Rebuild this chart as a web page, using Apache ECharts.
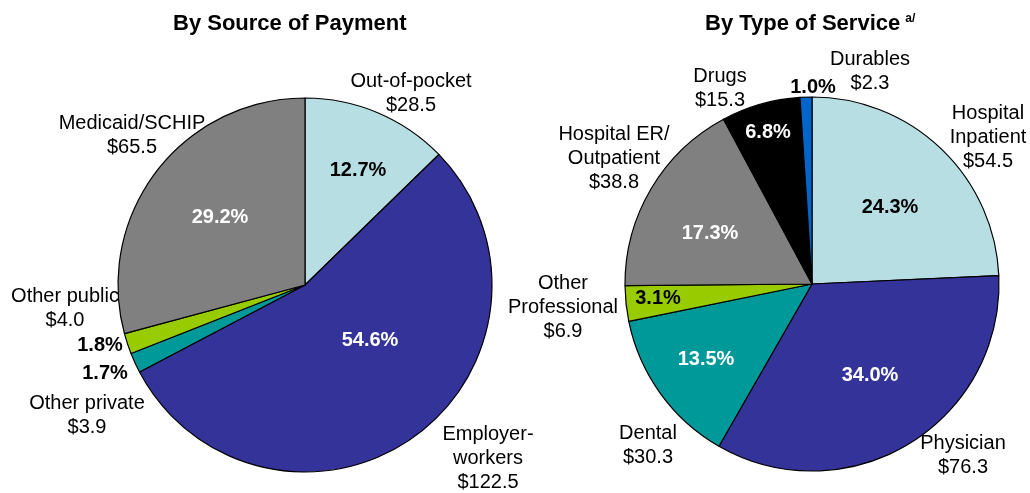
<!DOCTYPE html>
<html>
<head>
<meta charset="utf-8">
<script src="https://cdn.jsdelivr.net/npm/echarts@6/dist/echarts.min.js"></script>
<style>
  html, body { margin: 0; padding: 0; background: #fff; }
  #chart { width: 1030px; height: 493px; }
</style>
</head>
<body>
<div id="chart"></div>
<script>
  // 按支付来源
  var payNames = ['Out-of-pocket', 'Employer-\nworkers', 'Other private', 'Other public', 'Medicaid/SCHIP'];
  var payValues = [28.5, 122.5, 3.9, 4.0, 65.5];
  var payColors = ['#B7DFE3', '#333399', '#009999', '#99CC00', '#808080'];

  // 按服务类型
  var svcNames = ['Hospital\nInpatient', 'Physician', 'Dental', 'Other\nProfessional', 'Hospital ER/\nOutpatient', 'Drugs', 'Durables'];
  var svcValues = [54.5, 76.3, 30.3, 6.9, 38.8, 15.3, 2.3];
  var svcColors = ['#B7DFE3', '#333399', '#009999', '#99CC00', '#808080', '#000000', '#0066CC'];

  var font = '"Liberation Sans", Arial, sans-serif';

  // 标签位置 (文字, 不是图形)
  var payPctPos = [[358, 170], [370, 340], [105, 373], [100, 345], [220, 217]];
  var payNamePos = [[411, 93], [488, 458], [87, 415], [65, 308], [132, 135]];
  var svcPctPos = [[890, 207], [870, 375], [706, 359], [658, 298], [710, 233], [768, 132], [813, 87]];
  var svcNamePos = [[988, 137], [963, 455], [648, 445], [563, 307], [614, 158], [720, 88], [870, 71]];

  function sum(arr) {
    var s = 0;
    arr.forEach(function (v) { s += v; });
    return s;
  }

  // 百分比标签颜色: 深色扇区用白字
  function pctColor(c) {
    return (c === '#B7DFE3' || c === '#99CC00') ? '#000' : '#fff';
  }

  function pieSeries(names, values, colors, center, pctPos, namePos) {
    var total = sum(values);
    return [
      // 扇区 + 百分比
      {
        type: 'pie',
        center: center,
        radius: 187,
        startAngle: 90,
        clockwise: true,
        animation: false,
        silent: true,
        itemStyle: {borderColor: '#000', borderWidth: 1.2},
        label: {
          show: true,
          position: 'inside',
          fontFamily: font,
          fontSize: 20,
          fontWeight: 'bold',
          color: '#000',
          formatter: function (p) {
            return (p.value / total * 100).toFixed(1) + '%';
          }
        },
        labelLine: {show: false},
        data: names.map(function (n, i) {
          var x = pctPos[i][0], y = pctPos[i][1];
          // 扇区外的小百分比用黑字
          var inside = Math.hypot(x - center[0], y - center[1]) < 187;
          return {
            name: n,
            value: values[i],
            itemStyle: {color: colors[i]},
            label: {color: inside ? pctColor(colors[i]) : '#000'}
          };
        }),
        labelLayout: function (p) {
          return {x: pctPos[p.dataIndex][0], y: pctPos[p.dataIndex][1], align: 'center', verticalAlign: 'middle'};
        }
      },
      // 名称 + 金额
      {
        type: 'pie',
        center: center,
        radius: 187,
        startAngle: 90,
        clockwise: true,
        animation: false,
        silent: true,
        itemStyle: {color: 'rgba(0,0,0,0)', borderWidth: 0},
        label: {
          show: true,
          position: 'inside',
          fontFamily: font,
          fontSize: 20,
          lineHeight: 24,
          color: '#000',
          align: 'center',
          formatter: function (p) {
            return p.name + '\n$' + p.value.toFixed(1);
          }
        },
        labelLine: {show: false},
        data: names.map(function (n, i) {
          return {name: n, value: values[i]};
        }),
        labelLayout: function (p) {
          return {x: namePos[p.dataIndex][0], y: namePos[p.dataIndex][1], align: 'center', verticalAlign: 'middle'};
        }
      }
    ];
  }

  var myChart = echarts.init(document.getElementById('chart'));
  var option = {
    backgroundColor: '#fff',
    title: [
      {
        text: 'By Source of Payment',
        left: 168,
        top: 8,
        textStyle: {fontFamily: font, fontSize: 22, fontWeight: 'bold', color: '#000'}
      },
      {
        text: '{m|By Type of Service} {s|a/}',
        left: 700,
        top: 8,
        textStyle: {
          rich: {
            m: {fontFamily: font, fontSize: 22, fontWeight: 'bold', color: '#000'},
            s: {fontFamily: font, fontSize: 12, fontWeight: 'bold', color: '#000', verticalAlign: 'top', padding: [0, 0, 8, 0]}
          }
        }
      }
    ],
    series: [].concat(
      pieSeries(payNames, payValues, payColors, [305, 285], payPctPos, payNamePos),
      pieSeries(svcNames, svcValues, svcColors, [812, 284], svcPctPos, svcNamePos)
    )
  };
  myChart.setOption(option, true);
</script>
</body>
</html>
